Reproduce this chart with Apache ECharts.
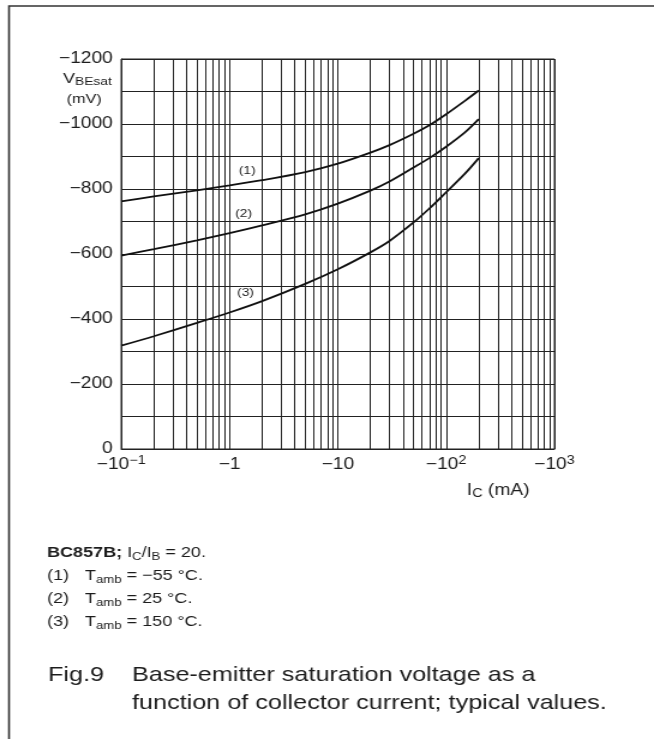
<!DOCTYPE html>
<html>
<head>
<meta charset="utf-8">
<script src="https://cdn.jsdelivr.net/npm/echarts@6/dist/echarts.min.js"></script>
<style>
  html, body { margin: 0; padding: 0; background: #fff; overflow: hidden; }
  /* the datasheet figure is drawn at 545 px and widened to the page width */
  #chart { width: 545px; height: 739px; transform: scaleX(1.2); transform-origin: 0 0; }
</style>
</head>
<body>
<div id="chart"></div>
<script>
// Collector current (mA) and base-emitter saturation voltage (mV), BC857B, IC/IB = 20
const currentMA = [-0.1, -0.2, -0.5, -1, -2, -5, -10, -20, -30, -50, -70, -100, -150, -200];
const vbeSatM55 = [-762, -777, -796, -811, -827, -852, -878, -912, -935, -970, -996, -1030, -1072, -1103]; // (1) Tamb = -55 °C
const vbeSat25 = [-595, -615, -642, -664, -688, -722, -755, -795, -823, -866, -895, -930, -975, -1015];     // (2) Tamb = 25 °C
const vbeSat150 = [-318, -347, -388, -420, -455, -508, -553, -605, -640, -697, -740, -790, -848, -895];     // (3) Tamb = 150 °C

const curveTags = ['(1)', '(2)', '(3)'];
const ambientTemps = ['−55 °C.', '25 °C.', '150 °C.'];

// axis tick labels
const xTickBase = ['−10', '−1', '−10', '−10', '−10'];
const xTickExp = ['−1', '', '', '2', '3'];
const yTickValues = [-1200, -1000, -800, -600, -400, -200, 0];
const yTickLabels = ['−1200', '−1000', '−800', '−600', '−400', '−200', '0'];
// intermediate decade lines of the log grid (magnitudes, mA)
const minorGridMA = [0.2, 0.3, 0.4, 0.5, 0.6, 0.7, 0.8, 0.9,
                     2, 3, 4, 5, 6, 7, 8, 9,
                     20, 30, 40, 50, 60, 70, 80, 90,
                     200, 300, 400, 500, 600, 700, 800, 900];

const FONT = 'Liberation Sans, Arial, Helvetica, sans-serif';
const INK = '#1c1c1c';
const GRID = '#222';

// the log axis works on magnitudes; the printed labels carry the minus sign
const toPairs = (vals) => currentMA.map((c, i) => [Math.abs(c), vals[i]]);

const curveStyle = { color: '#111', width: 1.8 };

function text(x, y, str, size, extra) {
  return {
    type: 'text', x: x, y: y, silent: true,
    style: Object.assign({
      text: str, fill: INK, fontFamily: FONT, fontSize: size,
      verticalAlign: 'middle', align: 'left'
    }, extra || {})
  };
}

const subRich = (base, sub, lh) => ({
  n: { fontSize: base, lineHeight: lh, fontFamily: FONT, fill: INK, color: INK },
  b: { fontSize: base, lineHeight: lh, fontFamily: FONT, fontWeight: 'bold', fill: INK, color: INK },
  s: { fontSize: sub, lineHeight: Math.round(sub * 0.9), verticalAlign: 'bottom', fontFamily: FONT, fill: INK, color: INK }
});

const graphics = [
  // figure frame (left and top edges)
  { type: 'polyline', silent: true, shape: { points: [[7.5, 739], [7.5, 6], [545, 6]] },
    style: { stroke: '#333', lineWidth: 1.6, fill: null } },
  // y axis title
  text(52.5, 79, '{n|V}{s|BEsat}', 15, { rich: subRich(15, 11.5, 18) }),
  text(55.5, 99.5, '(mV)', 13.5),
  // x axis title
  text(389, 491, '{n|I}{s|C}{n| (mA)}', 16, { rich: subRich(16, 12, 18) }),
  // curve tags
  text(206, 170.5, curveTags[0], 11.5, { align: 'center' }),
  text(203, 213.5, curveTags[1], 11.5, { align: 'center' }),
  text(204.6, 292.5, curveTags[2], 11.5, { align: 'center' }),
  // conditions
  text(39.2, 553, '{b|BC857B;} {n|I}{s|C}{n|/I}{s|B}{n| = 20.}', 15, { rich: subRich(15, 11, 18) })
];
ambientTemps.forEach((t, i) => {
  const y = 576 + i * 23;
  graphics.push(text(39.2, y, curveTags[i], 15));
  graphics.push(text(70.8, y, '{n|T}{s|amb}{n| = ' + t + '}', 15, { rich: subRich(15, 11, 18) }));
});
graphics.push(text(40, 675, 'Fig.9', 21));
graphics.push(text(110, 675, 'Base-emitter saturation voltage as a', 21));
graphics.push(text(110, 703, 'function of collector current; typical values.', 21));

const chart = echarts.init(document.getElementById('chart'), null, { renderer: 'canvas' });

chart.setOption({
  animation: false,
  backgroundColor: '#fff',
  grid: { left: 101, top: 59, width: 361, height: 390, show: true,
          borderColor: GRID, borderWidth: 1, backgroundColor: 'transparent', containLabel: false },
  xAxis: {
    type: 'log', logBase: 10, min: 0.1, max: 1000, splitNumber: 4,
    axisLine: { show: true, lineStyle: { color: GRID, width: 1 } },
    axisTick: { show: false },
    splitLine: { show: true, lineStyle: { color: GRID, width: 1 } },
    axisLabel: {
      margin: 6,
      formatter: (v) => {
        const k = Math.round(Math.log10(v)) + 1;
        const base = xTickBase[k];
        const exp = xTickExp[k];
        return '{b|' + base + '}' + (exp ? '{s|' + exp + '}' : '');
      },
      rich: {
        b: { fontSize: 16, lineHeight: 20, fontFamily: FONT, color: INK },
        s: { fontSize: 12, lineHeight: 12, verticalAlign: 'top', fontFamily: FONT, color: INK }
      }
    }
  },
  yAxis: {
    type: 'value', min: -1200, max: 0, interval: 100, inverse: true,
    axisLine: { show: true, lineStyle: { color: GRID, width: 1 } },
    axisTick: { show: false },
    splitLine: { show: true, lineStyle: { color: GRID, width: 1 } },
    axisLabel: {
      margin: 7, fontSize: 16, fontFamily: FONT, color: INK,
      formatter: (v) => {
        const i = yTickValues.indexOf(v);
        return i >= 0 ? yTickLabels[i] : '';
      }
    }
  },
  series: [
    {
      name: 'Tamb = −55 °C', type: 'line', smooth: 0.3, symbol: 'none',
      data: toPairs(vbeSatM55), lineStyle: curveStyle, z: 5,
      markLine: {
        silent: true, symbol: ['none', 'none'], label: { show: false },
        lineStyle: { color: GRID, width: 1, type: 'solid' },
        emphasis: { disabled: true },
        data: minorGridMA.map(v => ({ xAxis: v }))
      }
    },
    { name: 'Tamb = 25 °C', type: 'line', smooth: 0.3, symbol: 'none',
      data: toPairs(vbeSat25), lineStyle: curveStyle, z: 5 },
    { name: 'Tamb = 150 °C', type: 'line', smooth: 0.3, symbol: 'none',
      data: toPairs(vbeSat150), lineStyle: curveStyle, z: 5 }
  ],
  graphic: graphics
});
</script>
</body>
</html>
